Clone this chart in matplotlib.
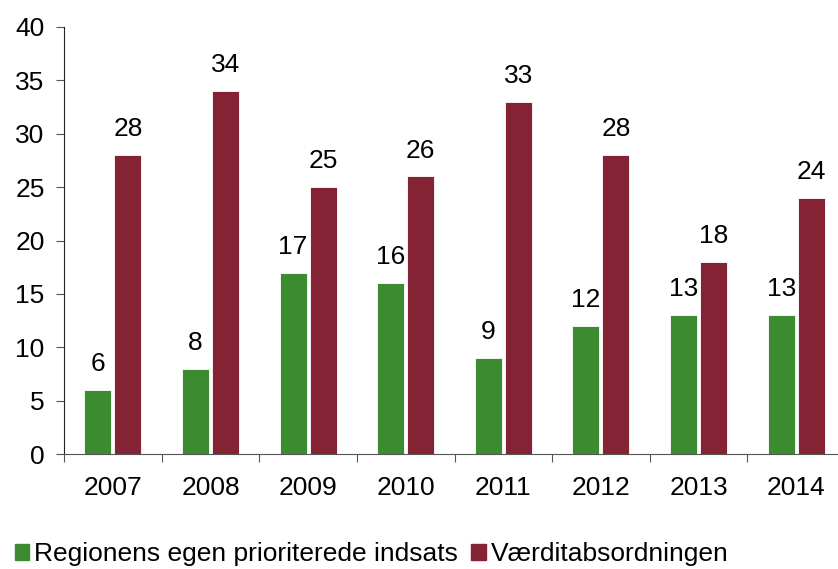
import numpy as np
import matplotlib
matplotlib.use("Agg")
import matplotlib.pyplot as plt
from matplotlib.patches import Patch

plt.rcParams['font.family'] = ['Liberation Sans', 'DejaVu Sans']

years = ["2007", "2008", "2009", "2010", "2011", "2012", "2013", "2014"]
egen = [6, 8, 17, 16, 9, 12, 13, 13]
vaerdi = [28, 34, 25, 26, 33, 28, 18, 24]
names = ["Regionens egen prioriterede indsats", "Værditabsordningen"]

GREEN = "#3d8b31"
RED = "#832333"
FS = 19

W, H = 838, 569
fig = plt.figure(figsize=(W / 100, H / 100), dpi=100)
# axes in pixel coords: x 64..845, y 27..454
ax = fig.add_axes([64 / W, (H - 454) / H, (845 - 64) / W, (454 - 27) / H])

x = np.arange(len(years))
bw = 0.277
off = 0.154
b1 = ax.bar(x - off, egen, bw, color=GREEN, edgecolor="white", linewidth=0.6)
b2 = ax.bar(x + off, vaerdi, bw, color=RED, edgecolor="white", linewidth=0.6)

for bars, vals in ((b1, egen), (b2, vaerdi)):
    for r, v in zip(bars, vals):
        ax.text(r.get_x() + r.get_width() / 2, v + 1.3, str(v),
                ha="center", va="bottom", fontsize=FS)

ax.set_xlim(-0.5, len(years) - 0.5)
ax.set_ylim(0, 40)
ax.set_yticks(range(0, 41, 5))
ax.set_xticks(np.arange(len(years) + 1) - 0.5, minor=False)
ax.set_xticklabels([])
ax.set_xticks(x, minor=True)
ax.set_xticklabels(years, minor=True)
ax.tick_params(axis="x", which="minor", length=0, pad=16, labelsize=FS)
ax.tick_params(axis="x", which="major", length=6, direction="out", color="#555555")
ax.tick_params(axis="y", length=6, direction="out", labelsize=FS, pad=8, color="#555555")

for s in ["top", "right"]:
    ax.spines[s].set_visible(False)
ax.spines["left"].set_color("#222222")
ax.spines["bottom"].set_color("#555555")

handles = [Patch(color=GREEN), Patch(color=RED)]
fig.legend(handles, names, loc="lower left", bbox_to_anchor=(4 / W, -0.014),
           ncol=2, frameon=False, fontsize=FS, handlelength=0.55, handleheight=0.55,
           handletextpad=0.2, columnspacing=0.5, borderaxespad=0)

fig.savefig("out.png", dpi=100)
